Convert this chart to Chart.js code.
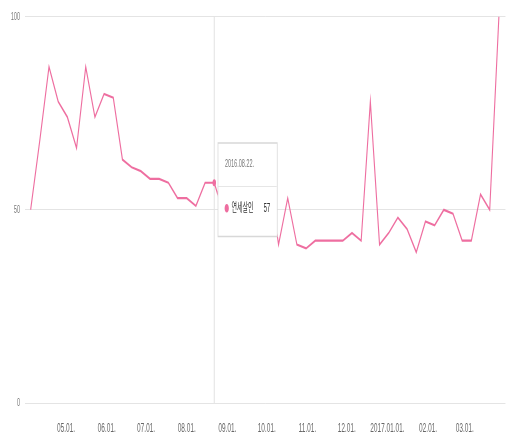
<!DOCTYPE html>
<html>
<head>
<meta charset="utf-8">
<script src="https://cdn.jsdelivr.net/npm/chart.js@4/dist/chart.umd.min.js"></script>
<style>
  html, body { margin: 0; padding: 0; background: #fff; overflow: hidden; }
  #c { display: block; }
</style>
</head>
<body>
<canvas id="c" width="1012" height="435" style="width:506px;height:435px"></canvas>
<script>
// Weekly series (one value per Monday, starting at firstWeek)
const seriesName = '연세살인';
const firstWeek = '2016-04-04';
const weeklyValues = [
  50, 68, 87, 78, 74, 66, 87, 74, 80, 79,
  63, 61, 60, 58, 58, 57, 53, 53, 51, 57,
  57, 49, 47, 52, 50, 46, 58, 41, 53, 41,
  40, 42, 42, 42, 42, 44, 42, 78, 41, 44,
  48, 45, 39, 47, 46, 50, 49, 42, 42, 54,
  50, 100
];

// Month-start ticks on the date axis
const monthTickDates = [
  '2016-05-01', '2016-06-01', '2016-07-01', '2016-08-01', '2016-09-01',
  '2016-10-01', '2016-11-01', '2016-12-01', '2017-01-01', '2017-02-01', '2017-03-01'
];
const monthTickLabels = [
  '05.01.', '06.01.', '07.01.', '08.01.', '09.01.',
  '10.01.', '11.01.', '12.01.', '2017.01.01.', '02.01.', '03.01.'
];
const yTickValues = [0, 50, 100];

// Week shown with the hover crosshair and tooltip
const highlightedWeek = 20;

const DAY = 86400000;
const startTime = Date.parse(firstWeek);
const dayOffset = d => (Date.parse(d) - startTime) / DAY;
const weekLabel = i => {
  const d = new Date(startTime + i * 7 * DAY);
  const p = n => String(n).padStart(2, '0');
  return `${d.getUTCFullYear()}.${p(d.getUTCMonth() + 1)}.${p(d.getUTCDate())}.`;
};

const points = weeklyValues.map((v, i) => ({ x: i * 7, y: v }));
const monthTickDays = monthTickDates.map(dayOffset);

const PINK = '#ee6ea0';
const FONT = "'Liberation Sans', 'Noto Sans CJK KR', sans-serif";

Chart.Tooltip.positioners.pinned = function (items) {
  if (!items.length) return false;
  const el = items[0].element;
  return { x: el.x, y: el.y + 7 };
};

// Vertical hover line through the highlighted week
const crosshair = {
  id: 'crosshair',
  beforeDatasetsDraw(chart) {
    const el = chart.getDatasetMeta(0).data[highlightedWeek];
    if (!el) return;
    const { ctx, chartArea } = chart;
    ctx.save();
    ctx.strokeStyle = '#e2e2e2';
    ctx.lineWidth = 2;
    ctx.beginPath();
    ctx.moveTo(el.x, chartArea.top);
    ctx.lineTo(el.x, chartArea.bottom);
    ctx.stroke();
    ctx.restore();
  }
};

// Thin rule between the tooltip title and its body
const tooltipDivider = {
  id: 'tooltipDivider',
  afterDraw(chart) {
    const tt = chart.tooltip;
    if (!tt || !tt.opacity || !tt.getActiveElements().length) return;
    const o = tt.options;
    const titleLH = o.titleFont.size * 1.2;
    const y = tt.y + o.padding.top + titleLH + o.titleMarginBottom / 2;
    const ctx = chart.ctx;
    ctx.save();
    ctx.strokeStyle = '#e6e6e6';
    ctx.lineWidth = 1;
    ctx.beginPath();
    ctx.moveTo(tt.x + 1, Math.round(y) + 0.5);
    ctx.lineTo(tt.x + tt.width - 1, Math.round(y) + 0.5);
    ctx.stroke();
    ctx.restore();
  }
};

const chart = new Chart(document.getElementById('c'), {
  type: 'line',
  data: {
    datasets: [{
      label: seriesName,
      data: points,
      borderColor: PINK,
      backgroundColor: PINK,
      borderWidth: 2.2,
      tension: 0,
      fill: false,
      pointRadius: ctx => (ctx.dataIndex === highlightedWeek ? 3.5 : 0),
      pointHoverRadius: ctx => (ctx.dataIndex === highlightedWeek ? 3.5 : 0),
      pointBackgroundColor: PINK,
      pointBorderWidth: 0
    }]
  },
  options: {
    responsive: false,
    devicePixelRatio: 1,
    animation: false,
    events: [],
    layout: { padding: { top: 12, right: 0, bottom: 0, left: 0 } },
    scales: {
      x: {
        type: 'linear',
        min: -4.3,
        max: 362,
        grid: { display: false },
        border: { display: false },
        afterFit: s => { s.height = 32; },
        afterBuildTicks: s => { s.ticks = monthTickDays.map(v => ({ value: v })); },
        ticks: {
          autoSkip: false,
          maxRotation: 0,
          padding: 10,
          color: '#666',
          font: { family: FONT, size: 13 },
          callback: (v, i) => monthTickLabels[i]
        }
      },
      y: {
        min: 0,
        max: 100,
        grid: { color: '#e4e4e4', lineWidth: 1, drawTicks: false },
        border: { display: false },
        afterFit: s => { s.width = 50; },
        afterBuildTicks: s => { s.ticks = yTickValues.map(v => ({ value: v })); },
        ticks: {
          padding: 10,
          color: '#777',
          font: { family: FONT, size: 11 }
        }
      }
    },
    plugins: {
      legend: { display: false },
      tooltip: {
        position: 'pinned',
        xAlign: 'left',
        yAlign: 'center',
        caretSize: 0,
        caretPadding: 7,
        cornerRadius: 0,
        backgroundColor: '#ffffff',
        borderColor: '#d8d8d8',
        borderWidth: 1.5,
        padding: { top: 14, bottom: 21, left: 14, right: 14 },
        titleColor: '#777',
        titleFont: { family: FONT, size: 11, weight: 'normal' },
        titleMarginBottom: 31,
        bodyColor: '#333',
        bodyFont: { family: FONT, size: 12 },
        usePointStyle: true,
        boxWidth: 7,
        boxHeight: 7,
        boxPadding: 4,
        displayColors: true,
        callbacks: {
          title: items => weekLabel(items[0].dataIndex),
          label: item => `${item.dataset.label}      ${item.parsed.y}`,
          labelColor: () => ({ borderColor: PINK, backgroundColor: PINK }),
          labelPointStyle: () => ({ pointStyle: 'circle', rotation: 0 })
        }
      }
    }
  },
  plugins: [crosshair, tooltipDivider]
});

const el = chart.getDatasetMeta(0).data[highlightedWeek];
chart.tooltip.setActiveElements(
  [{ datasetIndex: 0, index: highlightedWeek }],
  { x: el.x, y: el.y }
);
chart.update();
</script>
</body>
</html>
